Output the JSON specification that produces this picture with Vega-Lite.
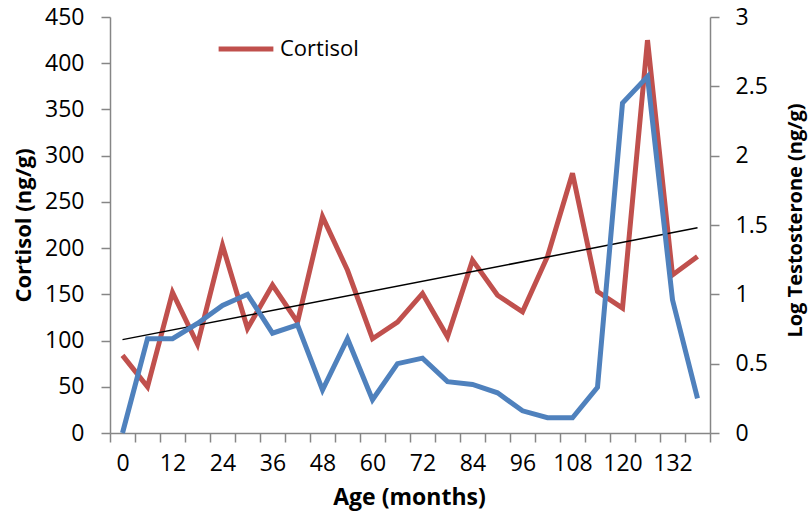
{
  "$schema": "https://vega.github.io/schema/vega-lite/v6.json",
  "width": 600,
  "height": 416,
  "autosize": {"type": "none"},
  "padding": {"left": 110, "top": 17, "right": 99, "bottom": 84},
  "background": "white",
  "config": {
    "view": {"stroke": null},
    "font": "Open Sans",
    "axis": {
      "grid": false,
      "domainColor": "#868686",
      "tickColor": "#868686",
      "domainWidth": 1.5,
      "tickWidth": 1.5,
      "tickSize": 9,
      "labelFont": "Open Sans",
      "labelFontSize": 23,
      "labelColor": "#000000",
      "titleFont": "Open Sans",
      "titleFontSize": 22,
      "titleFontWeight": "bold",
      "titleColor": "#000000"
    }
  },
  "datasets": {
    "main": [
      {"age": 0, "cortisol": 84, "logT": 0},
      {"age": 6, "cortisol": 50, "logT": 0.68},
      {"age": 12, "cortisol": 152, "logT": 0.68},
      {"age": 18, "cortisol": 96, "logT": 0.79},
      {"age": 24, "cortisol": 203, "logT": 0.92},
      {"age": 30, "cortisol": 113, "logT": 1.0},
      {"age": 36, "cortisol": 160, "logT": 0.72},
      {"age": 42, "cortisol": 120, "logT": 0.78},
      {"age": 48, "cortisol": 234, "logT": 0.31},
      {"age": 54, "cortisol": 176, "logT": 0.68},
      {"age": 60, "cortisol": 102, "logT": 0.24},
      {"age": 66, "cortisol": 120, "logT": 0.5},
      {"age": 72, "cortisol": 151, "logT": 0.54},
      {"age": 78, "cortisol": 104, "logT": 0.37},
      {"age": 84, "cortisol": 187, "logT": 0.35},
      {"age": 90, "cortisol": 149, "logT": 0.29},
      {"age": 96, "cortisol": 131, "logT": 0.16},
      {"age": 102, "cortisol": 191, "logT": 0.11},
      {"age": 108, "cortisol": 281, "logT": 0.11},
      {"age": 114, "cortisol": 153, "logT": 0.33},
      {"age": 120, "cortisol": 135, "logT": 2.38},
      {"age": 126, "cortisol": 425, "logT": 2.57},
      {"age": 132, "cortisol": 171, "logT": 0.96},
      {"age": 138, "cortisol": 191, "logT": 0.25}
    ],
    "trend": [
      {"age": 0, "cortisol": 101},
      {"age": 138, "cortisol": 222}
    ]
  },
  "encoding": {
    "x": {
      "field": "age",
      "type": "ordinal",
      "sort": "ascending",
      "bandPosition": 0.5,
      "scale": {"type": "band", "paddingInner": 0, "paddingOuter": 0},
      "axis": {
        "title": "Age (months)",
        "titleFontSize": 23,
        "labelAngle": 0,
        "tickBand": "extent",
        "labelOverlap": false,
        "labelPadding": 10,
        "labelExpr": "datum.value % 12 === 0 ? datum.label : ''",
        "titleX": 299,
        "titleY": 64,
        "titleBaseline": "middle"
      }
    }
  },
  "layer": [
    {
      "layer": [
        {
          "data": {"name": "main"},
          "mark": {"type": "line", "strokeWidth": 5, "strokeJoin": "miter"},
          "encoding": {
            "y": {
              "field": "cortisol",
              "type": "quantitative",
              "scale": {"domain": [0, 450], "nice": false, "zero": true},
              "axis": {
                "title": "Cortisol (ng/g)",
                "values": [0, 50, 100, 150, 200, 250, 300, 350, 400, 450],
                "labelPadding": 17,
                "titleX": -87,
                "titleY": 208,
                "titleAngle": -90,
                "titleBaseline": "middle",
                "titleAlign": "center"
              }
            },
            "color": {
              "datum": "Cortisol",
              "scale": {"domain": ["Cortisol"], "range": ["#C0504D"]},
              "legend": {
                "title": null,
                "orient": "none",
                "legendX": 106,
                "legendY": 2,
                "symbolType": "stroke",
                "symbolSize": 3000,
                "symbolStrokeWidth": 5,
                "labelFont": "Open Sans",
                "labelFontSize": 22,
                "labelColor": "#000000",
                "labelOffset": 4
              }
            }
          }
        },
        {
          "data": {"name": "trend"},
          "mark": {"type": "line", "strokeWidth": 1.5, "color": "#000000"},
          "encoding": {
            "y": {"field": "cortisol", "type": "quantitative"}
          }
        }
      ]
    },
    {
      "data": {"name": "main"},
      "mark": {"type": "line", "strokeWidth": 5, "color": "#4F81BD", "strokeJoin": "miter"},
      "encoding": {
        "y": {
          "field": "logT",
          "type": "quantitative",
          "scale": {"domain": [0, 3], "nice": false},
          "axis": {
            "orient": "right",
            "title": "Log Testosterone (ng/g)",
            "titleFontSize": 20,
            "values": [0, 0.5, 1, 1.5, 2, 2.5, 3],
            "format": "~g",
            "labelPadding": 16,
            "titleX": 85,
            "titleY": 203,
            "titleAngle": -90,
            "titleBaseline": "middle",
            "titleAlign": "center"
          }
        }
      }
    }
  ],
  "resolve": {"scale": {"y": "independent"}}
}
